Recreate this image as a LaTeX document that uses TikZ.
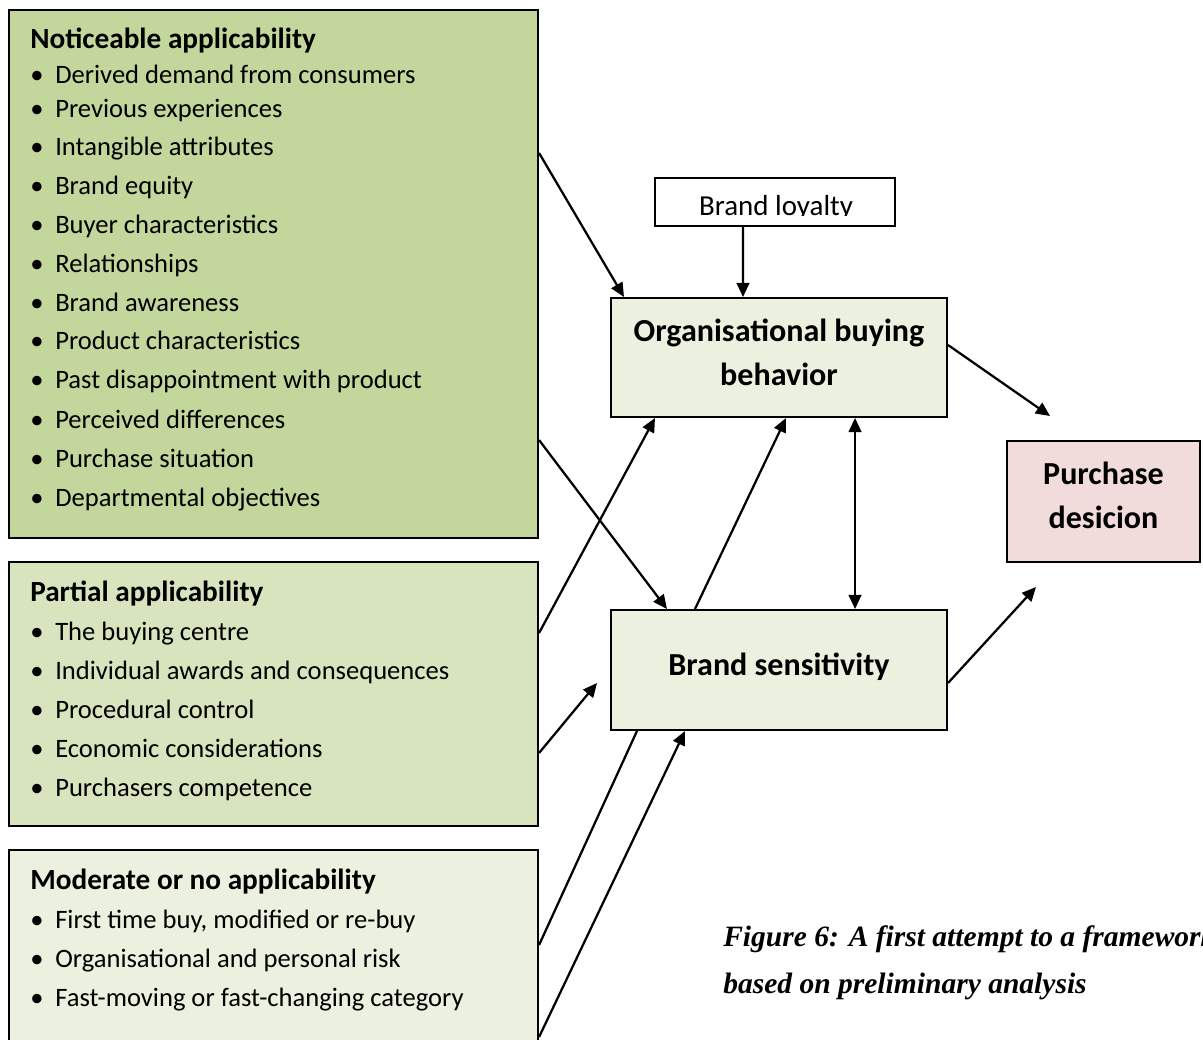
\documentclass[tikz,border=0pt]{standalone}
\usepackage{fontspec}
\setmainfont{Carlito}
\newfontfamily\capfont{Liberation Serif}
\usetikzlibrary{arrows.meta}
\definecolor{noticegreen}{HTML}{C3D69B}
\definecolor{partialgreen}{HTML}{D7E4BD}
\definecolor{lightgreen}{HTML}{EBF1DE}
\definecolor{purchasepink}{HTML}{F2DCDB}

\begin{document}
\begin{tikzpicture}[x=0.025cm, y=-0.025cm,
    box/.style={draw, line width=1.4pt, inner sep=0pt},
    head/.style={anchor=base west, inner sep=0pt, font=\fontsize{20.8}{25}\selectfont\bfseries},
    item/.style={anchor=base west, inner sep=0pt, font=\fontsize{18.9}{23}\selectfont},
    title/.style={align=center, inner sep=0pt, font=\fontsize{22.8}{31.3}\selectfont\bfseries},
    capline/.style={anchor=base west, inner sep=0pt, font=\capfont\fontsize{21}{25}\selectfont\bfseries\itshape},
    link/.style={line width=1.6pt, -{Triangle[length=10pt,width=9pt]}},
    twoway/.style={line width=1.6pt, {Triangle[length=10pt,width=9pt]}-{Triangle[length=10pt,width=9pt]}}]

    \clip (0,0) rectangle (1203,1039);
    \fill[white] (0,0) rectangle (1203,1039);

    % left boxes
    \node[box, fill=noticegreen, minimum width=13.225cm, minimum height=13.2cm] (notice) at (273.5,274) {};
    \node[box, fill=partialgreen, minimum width=13.225cm, minimum height=6.6cm] (partial) at (273.5,694) {};
    \node[box, fill=lightgreen, minimum width=13.225cm, minimum height=5cm] (moderate) at (273.5,950) {};

    \node[head] (noticehead) at (30,48) {Noticeable applicability};
    \foreach \y/\t [count=\i] in {75/Derived demand from consumers, 109/Previous experiences,
            147/Intangible attributes, 186/Brand equity, 225/Buyer characteristics,
            264/Relationships, 303/Brand awareness, 341/Product characteristics,
            380/Past disappointment with product, 420/Perceived differences,
            459/Purchase situation, 498/Departmental objectives}
        \node[item] (notice\i) at (30,\y+8) {\makebox[0.625cm][l]{\textbullet}\t};

    \node[head] (partialhead) at (30,601) {Partial applicability};
    \foreach \y/\t [count=\i] in {632/The buying centre, 671/Individual awards and consequences,
            710/Procedural control, 749/Economic considerations, 788/Purchasers competence}
        \node[item] (partial\i) at (30,\y+8) {\makebox[0.625cm][l]{\textbullet}\t};

    \node[head] (moderatehead) at (30,889) {Moderate or no applicability};
    \foreach \y/\t [count=\i] in {920/{First time buy, modified or re-buy},
            959/Organisational and personal risk, 998/Fast-moving or fast-changing category}
        \node[item] (moderate\i) at (30,\y+8) {\makebox[0.625cm][l]{\textbullet}\t};

    % right boxes
    \node[box, fill=lightgreen, minimum width=8.4cm, minimum height=2.975cm] (org) at (779,357.5) {};
    \node[box, fill=lightgreen, minimum width=8.4cm, minimum height=3cm] (bs) at (779,670) {};
    \node[box, fill=purchasepink, minimum width=4.825cm, minimum height=3.025cm] (pd) at (1103.5,501.5) {};
    \node[title] (orgtext) at (779,352) {Organisational buying\\behavior};
    \node[title] (bstext) at (779,667) {Brand sensitivity};
    \node[title] (pdtext) at (1103.5,495.5) {Purchase\\desicion};

    \node[box, fill=white, minimum width=6cm, minimum height=1.2cm] (loyal) at (775,202) {};
    \begin{scope}
        \clip (656,179) rectangle (894,215.5);
        \node[anchor=base, inner sep=0pt, font=\fontsize{20.6}{24}\selectfont] (loyaltext) at (776,215) {Brand loyalty};
    \end{scope}

    % connectors
    \coordinate (bsin) at (597,683);
    \coordinate (pdtop) at (1050,416);
    \coordinate (pdbot) at (1036,587);

    \draw[link] ([yshift=3.025cm]notice.east) -- ([xshift=0.35cm]org.north west);
    \draw[link] ([yshift=-4.15cm]notice.east) -- ([xshift=1.425cm]bs.north west);
    \draw[link] ([yshift=1.525cm]partial.east) -- ([xshift=1.125cm]org.south west);
    \draw[link] ([yshift=-1.475cm]partial.east) -- (bsin);
    \draw[link] ([xshift=2.125cm]bs.north west) -- ([xshift=4.4cm]org.south west);
    \draw[link] ([xshift=-0.8cm]loyal.south) -- ([xshift=-0.9cm]org.north);
    \draw[twoway] ([xshift=1.9cm]org.south) -- ([xshift=1.9cm]bs.north);
    \draw[link] ([yshift=0.3125cm]org.east) -- (pdtop);
    \draw[link] ([yshift=-0.325cm]bs.east) -- (pdbot);
    \draw[line width=1.6pt] ([xshift=0.675cm]bs.south west) -- ([yshift=0.125cm]moderate.east);
    \draw[link] ([yshift=-2.175cm]moderate.east) -- ([xshift=1.875cm]bs.south west);

    % caption
    \node[capline] (cap1) at (723,946) {Figure 6: A first attempt to a framework};
    \node[capline] (cap2) at (723,993) {based on preliminary analysis};
\end{tikzpicture}
\end{document}
